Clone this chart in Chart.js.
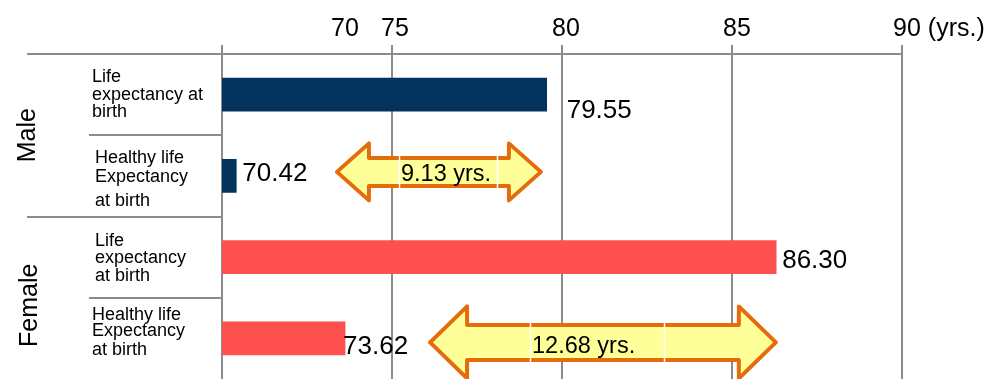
<!DOCTYPE html>
<html>
<head>
<meta charset="utf-8">
<script src="https://cdn.jsdelivr.net/npm/chart.js@4.4.1/dist/chart.umd.min.js"></script>
<style>
  html, body { margin: 0; padding: 0; background: #fff; }
  canvas { display: block; }
</style>
</head>
<body>
<canvas id="chart" width="991" height="379"></canvas>
<script>
// ---- data ----
const groups = ['Male', 'Female'];
const rowGroup = [0, 0, 1, 1];
const measures = [
  ['Life', 'expectancy at', 'birth'],
  ['Healthy life', 'Expectancy', 'at birth'],
  ['Life', 'expectancy', 'at birth'],
  ['Healthy life', 'Expectancy', 'at birth']
];
const values = [79.55, 70.42, 86.30, 73.62];
const tickValues = [70, 75, 80, 85, 90];
const tickLabels = ['70', '75', '80', '85', '90 (yrs.)'];

const categories = measures.map((m, i) => groups[rowGroup[i]] + ': ' + m.join(' '));
const gapMale = values[0] - values[1];
const gapFemale = values[2] - values[3];

// ---- style ----
const FONT = '"Liberation Sans", Arial, Helvetica, sans-serif';
const GRID = '#8c8c8c';
const groupColors = ['#03325c', '#ff5050'];

Chart.defaults.font.family = FONT;

const layoutStyle = {
  groupLabel: { size: 25, baselineX: [35, 37], dy: [0, 7.5] },
  measure: { size: 18, x: [92, 95, 95, 92], baselines: [[-12.75, 5.25, 22.25], [-13.25, 5.75, 29.75], [-10.75, 6.25, 24.25], [-18.25, -2.25, 16.75]] },
  valueLabel: { size: 26, offsets: [[20, 23.5], [6, 5.5], [6, 11], [-2, 15.5]] },
  tick: { size: 25, baseline: 36, nudge: [123, 3, 4, 5, 5] }
};

// double-headed arrows marking the gap between the two measures of a group
const gapArrows = [
  { row: 1, from: 73.38, to: 79.38, dy: -4, head: 32, headHalf: 28.5, shaftHalf: 14,
    boxLeft: 62, boxWidth: 98, textDy: 9.5, text: gapMale.toFixed(2) + ' yrs.' },
  { row: 3, from: 76.12, to: 86.29, dy: 4, head: 37, headHalf: 36, shaftHalf: 17.5,
    boxLeft: 100, boxWidth: 134, textDy: 11, text: gapFemale.toFixed(2) + ' yrs.' }
];

function drawDoubleArrow(ctx, x0, x1, cy, a) {
  ctx.beginPath();
  ctx.moveTo(x0, cy);
  ctx.lineTo(x0 + a.head, cy - a.headHalf);
  ctx.lineTo(x0 + a.head, cy - a.shaftHalf);
  ctx.lineTo(x1 - a.head, cy - a.shaftHalf);
  ctx.lineTo(x1 - a.head, cy - a.headHalf);
  ctx.lineTo(x1, cy);
  ctx.lineTo(x1 - a.head, cy + a.headHalf);
  ctx.lineTo(x1 - a.head, cy + a.shaftHalf);
  ctx.lineTo(x0 + a.head, cy + a.shaftHalf);
  ctx.lineTo(x0 + a.head, cy + a.headHalf);
  ctx.closePath();
  ctx.fillStyle = '#ffff99';
  ctx.fill();
  ctx.lineWidth = 4;
  ctx.lineJoin = 'round';
  ctx.strokeStyle = '#e46c0a';
  ctx.stroke();
}

const decorations = {
  id: 'decorations',
  afterDatasetsDraw(chart) {
    const { ctx, chartArea: ca, scales: { x, y } } = chart;
    const S = layoutStyle;
    ctx.save();

    // table rules on the left and along the top
    ctx.strokeStyle = GRID;
    ctx.lineWidth = 2;
    const rule = (x0, y0, x1, y1) => { ctx.beginPath(); ctx.moveTo(x0, y0); ctx.lineTo(x1, y1); ctx.stroke(); };
    rule(27, ca.top, x.getPixelForValue(90) + 1, ca.top);
    for (let i = 1; i < values.length; i++) {
      const yb = Math.round((y.getPixelForValue(i - 1) + y.getPixelForValue(i)) / 2);
      const x0 = rowGroup[i] !== rowGroup[i - 1] ? 27 : 89;
      rule(x0, yb, ca.left, yb);
    }

    // group names, rotated
    ctx.fillStyle = '#000';
    ctx.font = S.groupLabel.size + 'px ' + FONT;
    ctx.textAlign = 'center';
    ctx.textBaseline = 'alphabetic';
    groups.forEach((g, gi) => {
      const rows = rowGroup.map((r, i) => r === gi ? i : -1).filter(i => i >= 0);
      const cy = (y.getPixelForValue(rows[0]) + y.getPixelForValue(rows[rows.length - 1])) / 2 + S.groupLabel.dy[gi];
      ctx.save();
      ctx.translate(S.groupLabel.baselineX[gi], cy);
      ctx.rotate(-Math.PI / 2);
      ctx.fillText(g, 0, 0);
      ctx.restore();
    });

    // measure names
    ctx.font = S.measure.size + 'px ' + FONT;
    ctx.textAlign = 'left';
    measures.forEach((lines, i) => {
      const cy = y.getPixelForValue(i);
      lines.forEach((t, k) => ctx.fillText(t, S.measure.x[i], cy + S.measure.baselines[i][k]));
    });

    // value labels at the bar ends
    ctx.font = S.valueLabel.size + 'px ' + FONT;
    values.forEach((v, i) => {
      const [dx, dy] = S.valueLabel.offsets[i];
      ctx.fillText(v.toFixed(2), x.getPixelForValue(v) + dx, y.getPixelForValue(i) + dy);
    });

    // axis tick labels above the plot
    ctx.font = S.tick.size + 'px ' + FONT;
    tickValues.forEach((v, i) => {
      const label = tickLabels[i];
      const numW = ctx.measureText(label.split(' ')[0]).width;
      const cx = x.getPixelForValue(v) + S.tick.nudge[i];
      ctx.fillText(label, cx - numW / 2, S.tick.baseline);
    });

    // gap arrows
    gapArrows.forEach(a => {
      const x0 = x.getPixelForValue(a.from);
      const x1 = x.getPixelForValue(a.to);
      const cy = y.getPixelForValue(a.row) + a.dy;
      drawDoubleArrow(ctx, x0, x1, cy, a);
      const bl = Math.round(x0 + a.boxLeft) + 0.5;
      const br = bl + a.boxWidth;
      ctx.strokeStyle = '#ffffff';
      ctx.lineWidth = 1.5;
      rule(bl, cy - a.shaftHalf - 3, bl, cy + a.shaftHalf + 3);
      rule(br, cy - a.shaftHalf - 3, br, cy + a.shaftHalf + 3);
      ctx.fillStyle = '#000';
      ctx.font = '23.5px ' + FONT;
      ctx.textAlign = 'left';
      ctx.fillText(a.text, bl + 1.5, cy + a.textDy);
    });

    ctx.restore();
  }
};

new Chart(document.getElementById('chart'), {
  type: 'bar',
  data: {
    labels: categories,
    datasets: [{
      data: values,
      backgroundColor: rowGroup.map(g => groupColors[g]),
      borderWidth: 0,
      barThickness: 33
    }]
  },
  options: {
    indexAxis: 'y',
    responsive: false,
    animation: false,
    layout: { padding: { left: 222, right: 89, top: 45, bottom: 0 } },
    plugins: { legend: { display: false }, tooltip: { enabled: false } },
    scales: {
      x: {
        position: 'top',
        min: 70,
        max: 90,
        afterBuildTicks: scale => { scale.ticks = tickValues.map(v => ({ value: v })); },
        ticks: { display: false },
        grid: { color: GRID, lineWidth: 2, drawTicks: true, tickLength: 9 },
        border: { display: false }
      },
      y: { display: false }
    }
  },
  plugins: [decorations]
});
</script>
</body>
</html>
